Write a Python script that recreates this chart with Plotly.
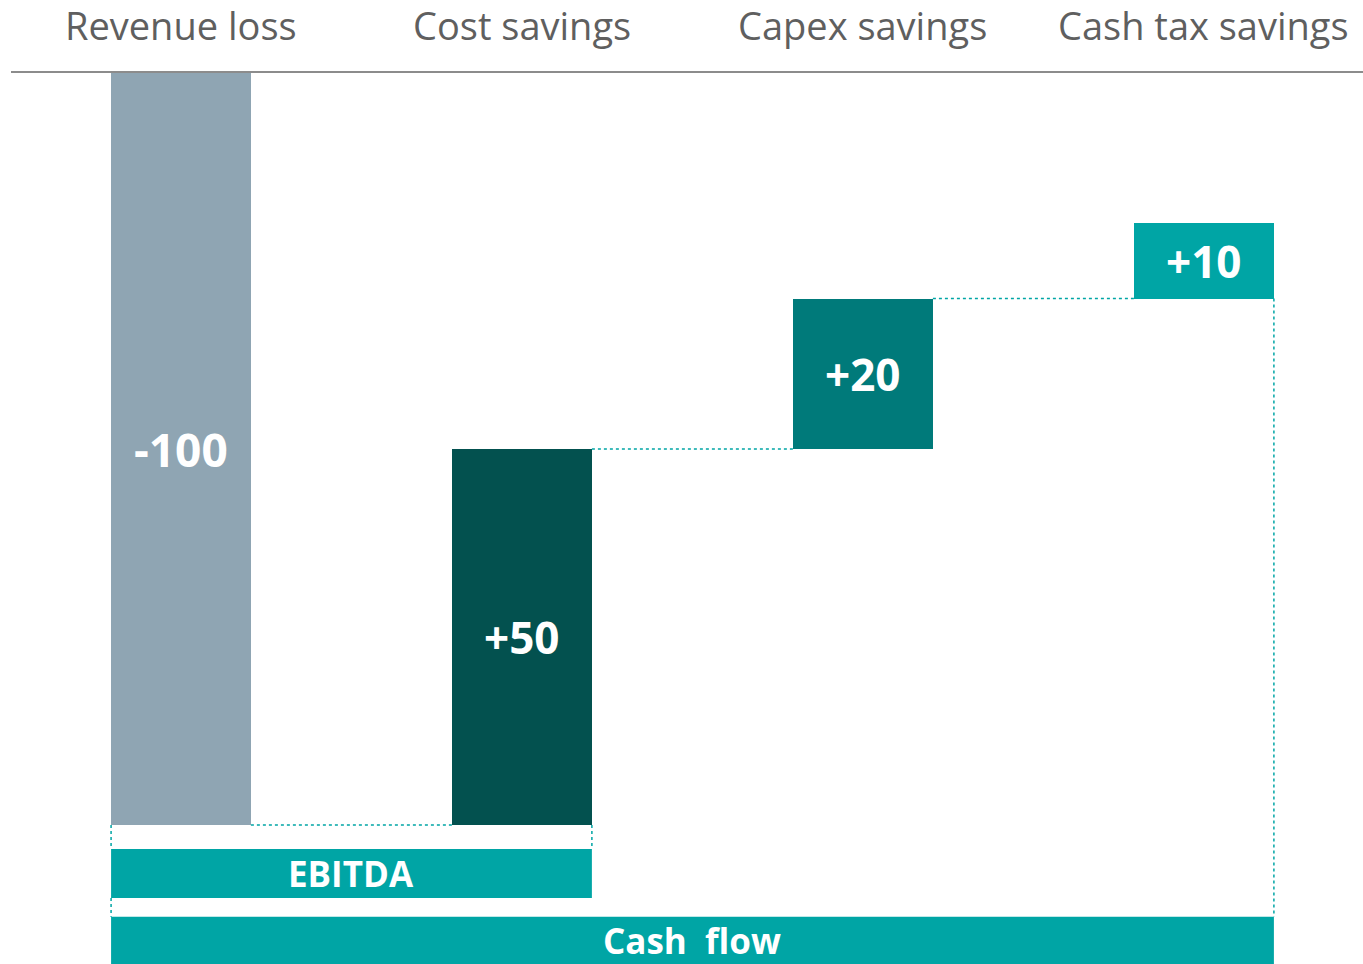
import plotly.graph_objects as go

# ---- data ----
categories = ["Revenue loss", "Cost savings", "Capex savings", "Cash tax savings"]
deltas = [-100, 50, 20, 10]
value_labels = ["-100", "+50", "+20", "+10"]
bar_colors = ["#8fa5b3", "#03514f", "#007a7a", "#00a5a5"]
band_names = ["EBITDA", "Cash\u00a0 flow"]
band_first = [0, 0]
band_last = [1, 3]

# ---- style ----
BAR_W = 0.41
TEAL = "#00a5a5"
band_y = [(-103.2, -109.7), (-112.2, -122.0)]
band_text_y = [-106.5, -115.4]
FONT = "Open Sans"

# cumulative waterfall
starts, ends = [], []
run = 0
for d in deltas:
    starts.append(run)
    run += d
    ends.append(run)
bases = [min(s, e) for s, e in zip(starts, ends)]
heights = [abs(d) for d in deltas]

fig = go.Figure()
fig.add_trace(go.Bar(
    x=list(range(len(categories))), y=heights, base=bases,
    width=BAR_W, marker=dict(color=bar_colors, line=dict(width=0)),
    hoverinfo="skip", showlegend=False,
))

shapes = []
annotations = []

# value labels
for i, (b, h, t) in enumerate(zip(bases, heights, value_labels)):
    size = 46 if t.startswith("-") else 44
    annotations.append(dict(x=i, y=b + h / 2, xref="x", yref="y", text=f"<b>{t}</b>",
                            showarrow=False, font=dict(family=FONT, size=size, color="white")))

# category labels at top
for i, c in enumerate(categories):
    annotations.append(dict(x=i, y=1, xref="x", yref="paper", text=c, showarrow=False,
                            yanchor="middle", yshift=48,
                            font=dict(family=FONT, size=38, color="#5f5f5f")))

dot = dict(color=TEAL, width=1.5, dash="dot")
# horizontal connectors
for i in range(len(categories) - 1):
    shapes.append(dict(type="line", xref="x", yref="y", x0=i + BAR_W / 2, x1=i + 1 - BAR_W / 2,
                       y0=ends[i], y1=ends[i], line=dot))

# bands
for name, f, l, (y0, y1), ty in zip(band_names, band_first, band_last, band_y, band_text_y):
    shapes.append(dict(type="rect", xref="x", yref="y", x0=f - BAR_W / 2, x1=l + BAR_W / 2,
                       y0=y0, y1=y1, fillcolor=TEAL, line=dict(width=0), layer="above"))
    annotations.append(dict(x=(f + l) / 2, y=ty, xref="x", yref="y", text=f"<b>{name}</b>",
                            showarrow=False, borderpad=0,
                            font=dict(family=FONT, size=35, color="white")))

# vertical dotted connectors to bands
left_x = -BAR_W / 2
shapes.append(dict(type="line", xref="x", yref="y", x0=left_x, x1=left_x,
                   y0=ends[0], y1=band_y[0][0], line=dot))
shapes.append(dict(type="line", xref="x", yref="y", x0=left_x, x1=left_x,
                   y0=band_y[0][1], y1=band_y[1][0], line=dot))
shapes.append(dict(type="line", xref="x", yref="y", x0=band_last[0] + BAR_W / 2, x1=band_last[0] + BAR_W / 2,
                   y0=starts[band_last[0]], y1=band_y[0][0], line=dot))
shapes.append(dict(type="line", xref="x", yref="y", x0=band_last[1] + BAR_W / 2, x1=band_last[1] + BAR_W / 2,
                   y0=starts[band_last[1]], y1=band_y[1][0], line=dot))

fig.update_layout(
    width=1363, height=964,
    margin=dict(l=11, r=0, t=73, b=0),
    paper_bgcolor="white", plot_bgcolor="white",
    shapes=shapes, annotations=annotations,
    xaxis=dict(range=[-0.4985, 3.4663], side="top", showline=True, linecolor="#8c8c8c",
               linewidth=2, showticklabels=False, ticks="", showgrid=False, zeroline=False,
               fixedrange=True),
    yaxis=dict(range=[-118.48, 0], visible=False, showgrid=False, zeroline=False,
               fixedrange=True),
    bargap=0,
)

fig.write_html(
    "out.html",
    config={"displayModeBar": False},
    post_script="document.body.style.margin='0px';document.body.style.overflow='hidden';",
)
